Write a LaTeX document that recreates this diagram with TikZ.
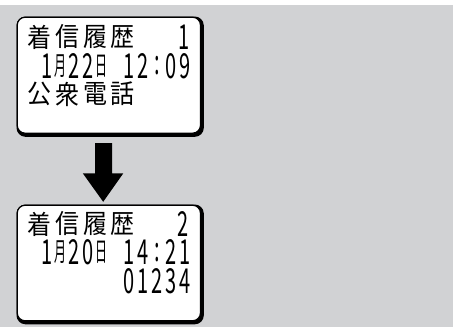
\documentclass[tikz,border=0pt]{standalone}
\usepackage{fontspec}
\newfontfamily\jpf{Noto Sans CJK JP}
\definecolor{bggray}{HTML}{D1D2D4}
\newcommand\fwch[4]{\node[lcd] (#1) at (#2,#3) {\scalebox{1}[1.1]{#4}};}
\newcommand\hwcj[4]{\node[lcd] (#1) at (#2,#3) {\scalebox{0.5}[1.1]{#4}};}
\newcommand\hwdg[4]{\node[lcd,font=\jpf\fontsize{20}{20}\selectfont] (#1) at (#2,#3) {\scalebox{1}[1.72]{#4}};}
\begin{document}
\begin{tikzpicture}[x=1pt,y=-1pt,
  lcd/.style={inner sep=0pt, outer sep=0pt, font=\jpf\fontsize{24}{24}\selectfont},
  lcdscreen/.style={fill=white, draw=black, line width=1.2pt, rounded corners=8pt},
  lcdshadow/.style={fill=black, rounded corners=9pt}]
\useasboundingbox (0,0) rectangle (453,327);
\fill[white] (0,0) rectangle (453,327);
\fill[bggray] (0,5) rectangle (453,327);
% screen 1
\fill[lcdshadow] (16.5,16.5) rectangle (203.8,136.8);
\draw[lcdscreen] (17.2,17.2) rectangle (200.5,133.2);
% screen 2
\fill[lcdshadow] (16.5,204.5) rectangle (203.8,324.3);
\draw[lcdscreen] (17.2,205.2) rectangle (200.5,320.8);
% arrow
\fill[black] (95,143) -- (112,143) -- (112,173.3) -- (123.3,173.3) -- (103.2,201.8) -- (82.8,173.3) -- (95,173.3) -- cycle;
% ---- screen 1 text
\fwch{a1}{39.8}{37}{着}
\fwch{a2}{67.4}{37}{信}
\fwch{a3}{95}{37}{履}
\fwch{a4}{122.6}{37}{歴}
\hwdg{a5}{184}{37}{1}
\hwdg{b1}{46.7}{66}{1}
\hwcj{b2}{60.5}{66}{月}
\hwdg{b3}{74.3}{66}{2}
\hwdg{b4}{88.1}{66}{2}
\hwcj{b5}{101.9}{66}{日}
\hwdg{b6}{129.5}{66}{1}
\hwdg{b7}{143.3}{66}{2}
\hwdg{b8}{157.1}{66}{:}
\hwdg{b9}{170.9}{66}{0}
\hwdg{b10}{184.7}{66}{9}
\fwch{c1}{39.8}{94}{公}
\fwch{c2}{67.4}{94}{衆}
\fwch{c3}{95}{94}{電}
\fwch{c4}{122.6}{94}{話}
% ---- screen 2 text
\fwch{d1}{39.8}{224}{着}
\fwch{d2}{67.4}{224}{信}
\fwch{d3}{95}{224}{履}
\fwch{d4}{122.6}{224}{歴}
\hwdg{d5}{183}{224}{2}
\hwdg{e1}{46.7}{252.5}{1}
\hwcj{e2}{60.5}{252.5}{月}
\hwdg{e3}{74.3}{252.5}{2}
\hwdg{e4}{88.1}{252.5}{0}
\hwcj{e5}{101.9}{252.5}{日}
\hwdg{e6}{129.5}{252.5}{1}
\hwdg{e7}{143.3}{252.5}{4}
\hwdg{e8}{157.1}{252.5}{:}
\hwdg{e9}{170.9}{252.5}{2}
\hwdg{e10}{184.7}{252.5}{1}
\hwdg{f1}{129.5}{281}{0}
\hwdg{f2}{143.3}{281}{1}
\hwdg{f3}{157.1}{281}{2}
\hwdg{f4}{170.9}{281}{3}
\hwdg{f5}{184.7}{281}{4}
\end{tikzpicture}
\end{document}
